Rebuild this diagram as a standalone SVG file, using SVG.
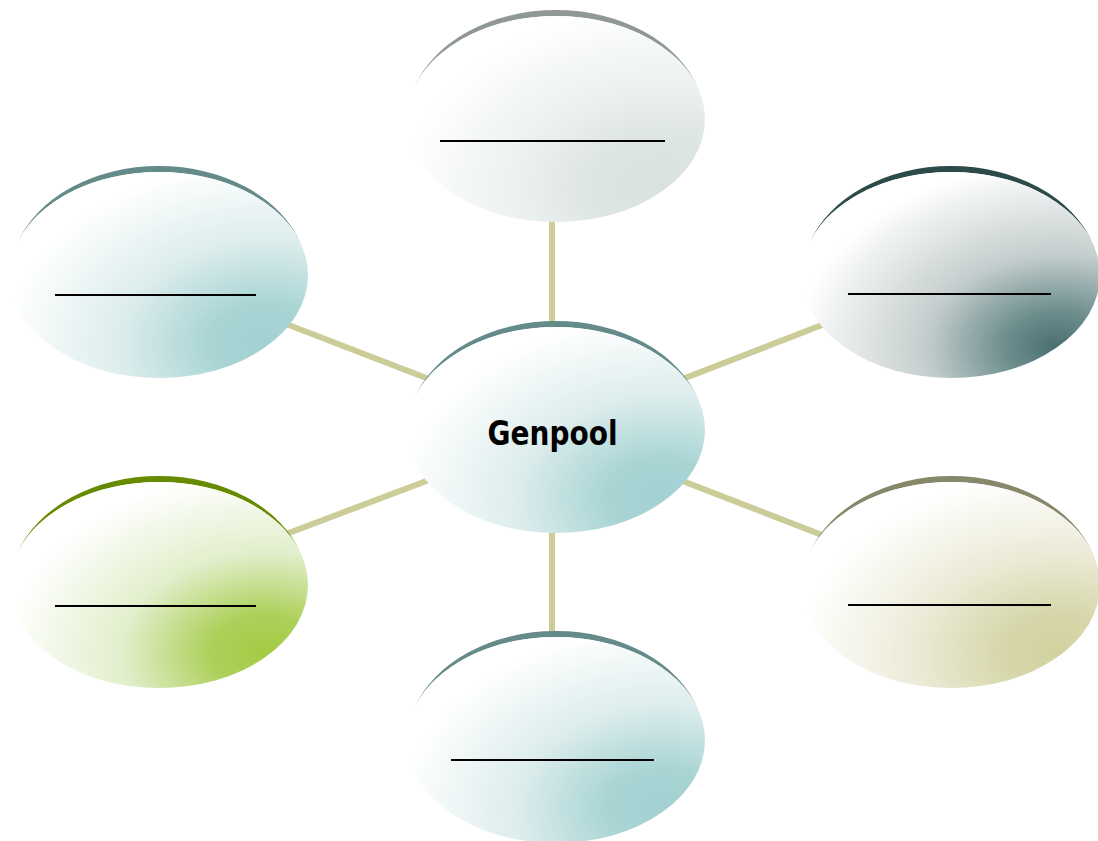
<svg xmlns="http://www.w3.org/2000/svg" width="1098" height="841" viewBox="0 0 1098 841">
  <defs>
    <radialGradient id="gTeal" cx="0.88" cy="0.85" r="0.9" fx="0.85" fy="0.82">
      <stop offset="0" stop-color="#a3d1d1"/>
      <stop offset="0.2" stop-color="#a8d4d4"/>
      <stop offset="0.55" stop-color="#dcecec"/>
      <stop offset="1" stop-color="#ffffff"/>
    </radialGradient>
    <radialGradient id="gGray" cx="0.88" cy="0.85" r="0.9" fx="0.85" fy="0.82">
      <stop offset="0" stop-color="#d9e1e1"/>
      <stop offset="0.25" stop-color="#dde4e4"/>
      <stop offset="0.6" stop-color="#eef2f2"/>
      <stop offset="1" stop-color="#ffffff"/>
    </radialGradient>
    <radialGradient id="gSlate" cx="0.88" cy="0.85" r="0.9" fx="0.85" fy="0.85">
      <stop offset="0" stop-color="#4a6e6e"/>
      <stop offset="0.2" stop-color="#6f8f8f"/>
      <stop offset="0.5" stop-color="#c4cdcd"/>
      <stop offset="1" stop-color="#ffffff"/>
    </radialGradient>
    <radialGradient id="gGreen" cx="0.88" cy="0.85" r="0.9" fx="0.85" fy="0.82">
      <stop offset="0" stop-color="#a3cc44"/>
      <stop offset="0.2" stop-color="#acd05a"/>
      <stop offset="0.55" stop-color="#e2efcc"/>
      <stop offset="1" stop-color="#ffffff"/>
    </radialGradient>
    <radialGradient id="gOlive" cx="0.88" cy="0.85" r="0.9" fx="0.85" fy="0.82">
      <stop offset="0" stop-color="#d2d2a0"/>
      <stop offset="0.2" stop-color="#d6d6aa"/>
      <stop offset="0.55" stop-color="#ecebd8"/>
      <stop offset="1" stop-color="#ffffff"/>
    </radialGradient>
  </defs>
  <style>
    .conn { stroke: #cccc99; stroke-width: 6; fill: none; }
    .ul { stroke: #000000; stroke-width: 1.8; }
    .lbl { font-family: "DejaVu Sans", Verdana, sans-serif; font-weight: bold; font-size: 34px; fill: #000000; }
  </style>
  <rect width="1098" height="841" fill="#ffffff"/>

  <g id="connectors">
    <line class="conn" x1="552" y1="119" x2="552" y2="430"/>
    <line class="conn" x1="552" y1="430" x2="552" y2="740"/>
    <line class="conn" x1="159" y1="275" x2="556" y2="428"/>
    <line class="conn" x1="951" y1="275" x2="556" y2="428"/>
    <line class="conn" x1="159" y1="582" x2="556" y2="432"/>
    <line class="conn" x1="951" y1="585" x2="556" y2="432"/>
  </g>

  <g id="node-top">
    <path d="M414.4,87 A149,111.7 0 0 1 697.6,87 A149,103 0 0 0 414.4,87 Z" fill="#8f9797"/>
    <ellipse cx="556" cy="119" rx="149" ry="103" fill="url(#gGray)"/>
    <line class="ul" x1="440" y1="141" x2="665" y2="141"/>
  </g>

  <g id="node-upper-left">
    <path d="M17.4,243 A149,111.7 0 0 1 300.6,243 A149,103 0 0 0 17.4,243 Z" fill="#648a8a"/>
    <ellipse cx="159" cy="275" rx="149" ry="103" fill="url(#gTeal)"/>
    <line class="ul" x1="55" y1="295" x2="256" y2="295"/>
  </g>

  <g id="node-upper-right">
    <path d="M809.4,243 A149,111.7 0 0 1 1092.6,243 A149,103 0 0 0 809.4,243 Z" fill="#2c4a4a"/>
    <ellipse cx="951" cy="275" rx="149" ry="103" fill="url(#gSlate)"/>
    <line class="ul" x1="848" y1="294" x2="1051" y2="294"/>
  </g>

  <g id="node-center">
    <path d="M414.4,398 A149,111.7 0 0 1 697.6,398 A149,103 0 0 0 414.4,398 Z" fill="#648a8a"/>
    <ellipse cx="556" cy="430" rx="149" ry="103" fill="url(#gTeal)"/>
    <text class="lbl" x="552.5" y="445" text-anchor="middle" textLength="130" lengthAdjust="spacingAndGlyphs">Genpool</text>
  </g>

  <g id="node-lower-left">
    <path d="M17.4,553 A149,111.7 0 0 1 300.6,553 A149,103 0 0 0 17.4,553 Z" fill="#668a00"/>
    <ellipse cx="159" cy="585" rx="149" ry="103" fill="url(#gGreen)"/>
    <line class="ul" x1="55" y1="606" x2="256" y2="606"/>
  </g>

  <g id="node-lower-right">
    <path d="M809.4,553 A149,111.7 0 0 1 1092.6,553 A149,103 0 0 0 809.4,553 Z" fill="#87876a"/>
    <ellipse cx="951" cy="585" rx="149" ry="103" fill="url(#gOlive)"/>
    <line class="ul" x1="848" y1="605" x2="1051" y2="605"/>
  </g>

  <g id="node-bottom">
    <path d="M414.4,708 A149,111.7 0 0 1 697.6,708 A149,103 0 0 0 414.4,708 Z" fill="#648a8a"/>
    <ellipse cx="556" cy="740" rx="149" ry="103" fill="url(#gTeal)"/>
    <line class="ul" x1="451" y1="760" x2="654" y2="760"/>
  </g>
</svg>
